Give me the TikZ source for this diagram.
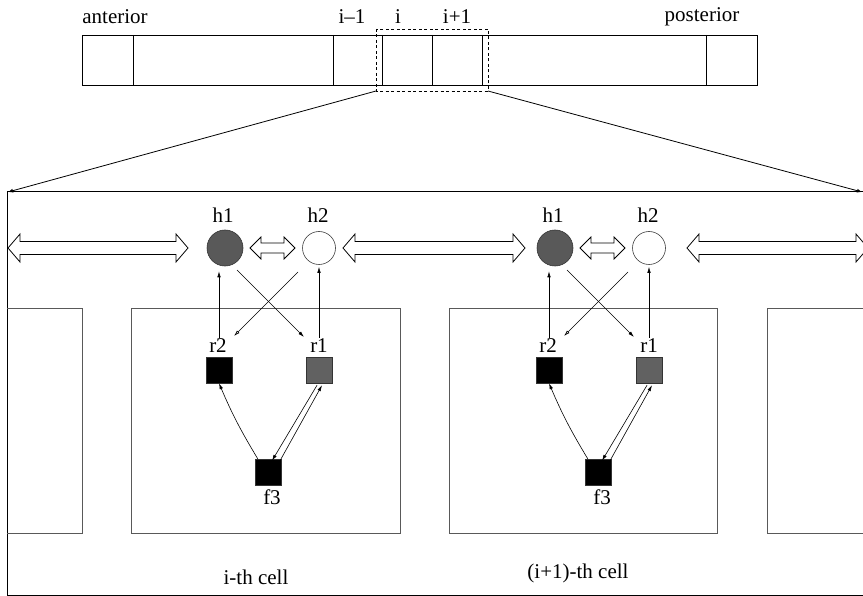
\documentclass[tikz,border=0pt]{standalone}
\usepackage{fontspec}
\setmainfont{Liberation Serif}
\newfontfamily\labfont{Liberation Serif}
\usetikzlibrary{arrows.meta,calc}
\newcommand\fatarrow[6]{% xleft, xright, y, headlen, headhalf, shafthalf
  \draw[fatline] (#1,#3) -- ({#1+#4},{#3-#5}) -- ({#1+#4},{#3-#6}) -- ({#2-#4},{#3-#6})
    -- ({#2-#4},{#3-#5}) -- (#2,#3) -- ({#2-#4},{#3+#5}) -- ({#2-#4},{#3+#6})
    -- ({#1+#4},{#3+#6}) -- ({#1+#4},{#3+#5}) -- cycle;}
\begin{document}
\begin{tikzpicture}[x=1pt,y=-1pt,
  lab/.style={font=\labfont\fontsize{21}{21}\selectfont, inner sep=0pt},
  fatline/.style={draw=black, line width=0.8pt, fill=white, line join=miter},
  cellbox/.style={draw=black!65, line width=0.8pt},
  sq/.style={rectangle, draw=black!80, line width=0.5pt, minimum size=26pt, inner sep=0pt},
  arr/.style={draw=black, line width=0.6pt, -{Latex[length=6pt,width=3.5pt]}},
  oarr/.style={draw=black, line width=0.6pt, -{Latex[open,length=6pt,width=3.5pt]}},
  zoomarr/.style={draw=black, line width=0.8pt, -{Latex[length=5pt,width=4pt]}}
]
\useasboundingbox (0,0) rectangle (863,596);
\clip (0,0) rectangle (863,596);

% top bar
\draw[line width=0.8pt] (82.5,35) rectangle (757,85);
\foreach \xx in {133,333,382.5,432,482.6,706} \draw[line width=0.8pt] (\xx,35) -- (\xx,85);
\node[lab] (ant) at (115,17) {anterior};
\node[lab] (im1) at (352,17) {i–1};
\node[lab] (ii) at (398,17) {i};
\node[lab] (ip1) at (457,17) {i+1};
\node[lab] (post) at (702,17) {posterior};

% dashed zoom box
\draw[line width=0.9pt, dash pattern=on 3pt off 2.5pt] (376,29) rectangle (488,91);
\coordinate (zl) at (376,91);
\coordinate (zr) at (488,91);
\coordinate (bl) at (8,192);
\coordinate (br) at (862,192);
\draw[zoomarr] (zl) -- (bl);
\draw[zoomarr] (zr) -- (br);

% big frame
\draw[line width=1pt] (7,192) rectangle (870,595);

% partial neighbour cells
\draw[cellbox] (7,308) -- (82,308) -- (82,533) -- (7,533);
\draw[cellbox] (870,308) -- (767,308) -- (767,533) -- (870,533);

% long fat arrows
\fatarrow{8}{188}{248}{12}{14}{6.5}
\fatarrow{343}{525}{248}{12}{14}{6.5}
\fatarrow{687}{868}{248}{12}{14}{6.5}

\draw[cellbox] (131,308) rectangle (400,533);
\draw[cellbox] (449,308) rectangle (717,533);

\foreach \k/\dx in {a/0,b/330}{
  \fatarrow{250+\dx}{295+\dx}{248}{11}{11}{5}
  \node[circle, draw=black!80, line width=0.6pt, fill=black!65, minimum size=36pt, inner sep=0pt] (h1\k) at (225+\dx,248) {};
  \node[circle, draw=black!75, line width=0.6pt, fill=white, minimum size=33pt, inner sep=0pt] (h2\k) at (319+\dx,248) {};
  \node[lab] (h1l\k) at (223+\dx,215) {h1};
  \node[lab] (h2l\k) at (318+\dx,215) {h2};
  \node[sq, fill=black] (r2\k) at (219+\dx,370) {};
  \node[sq, fill=black!62] (r1\k) at (319+\dx,370) {};
  \node[sq, fill=black] (f3\k) at (268+\dx,472) {};
  \node[lab] (r2l\k) at (218+\dx,346) {r2};
  \node[lab] (r1l\k) at (319+\dx,346) {r1};
  \node[lab] (f3l\k) at (272+\dx,497) {f3};
  % vertical arrows
  \draw[arr] ($(r2l\k.north)+(1,-1)$) -- ($(r2l\k.north |- h1\k.south)+(1,5)$);
  \draw[arr] ($(r1l\k.north)+(0,-1)$) -- ($(r1l\k.north |- h2\k.south)+(0,2)$);
  % cross arrows
  \draw[arr] ($(h1\k)+(12,22)$) -- ($(r1l\k)+(-15,-9)$);
  \draw[oarr] ($(h2\k)+(-21,24)$) -- ($(r2l\k)+(16,-10)$);
  % f3 connections
  \draw[arr] ($(f3\k.north west)+(3,0)$) to[bend left=4] (r2\k.south);
  \draw[arr] ($(r1\k.south)+(-2,2)$) -- ($(f3\k.north)+(4,2)$);
  \draw[arr] ($(f3\k.north)+(12,2)$) -- ($(r1\k.south)+(3,2)$);
}
\node[lab] (cell1) at (256,577) {i-th cell};
\node[lab] (cell2) at (578,573) {(i+1)-th cell};
\end{tikzpicture}
\end{document}
